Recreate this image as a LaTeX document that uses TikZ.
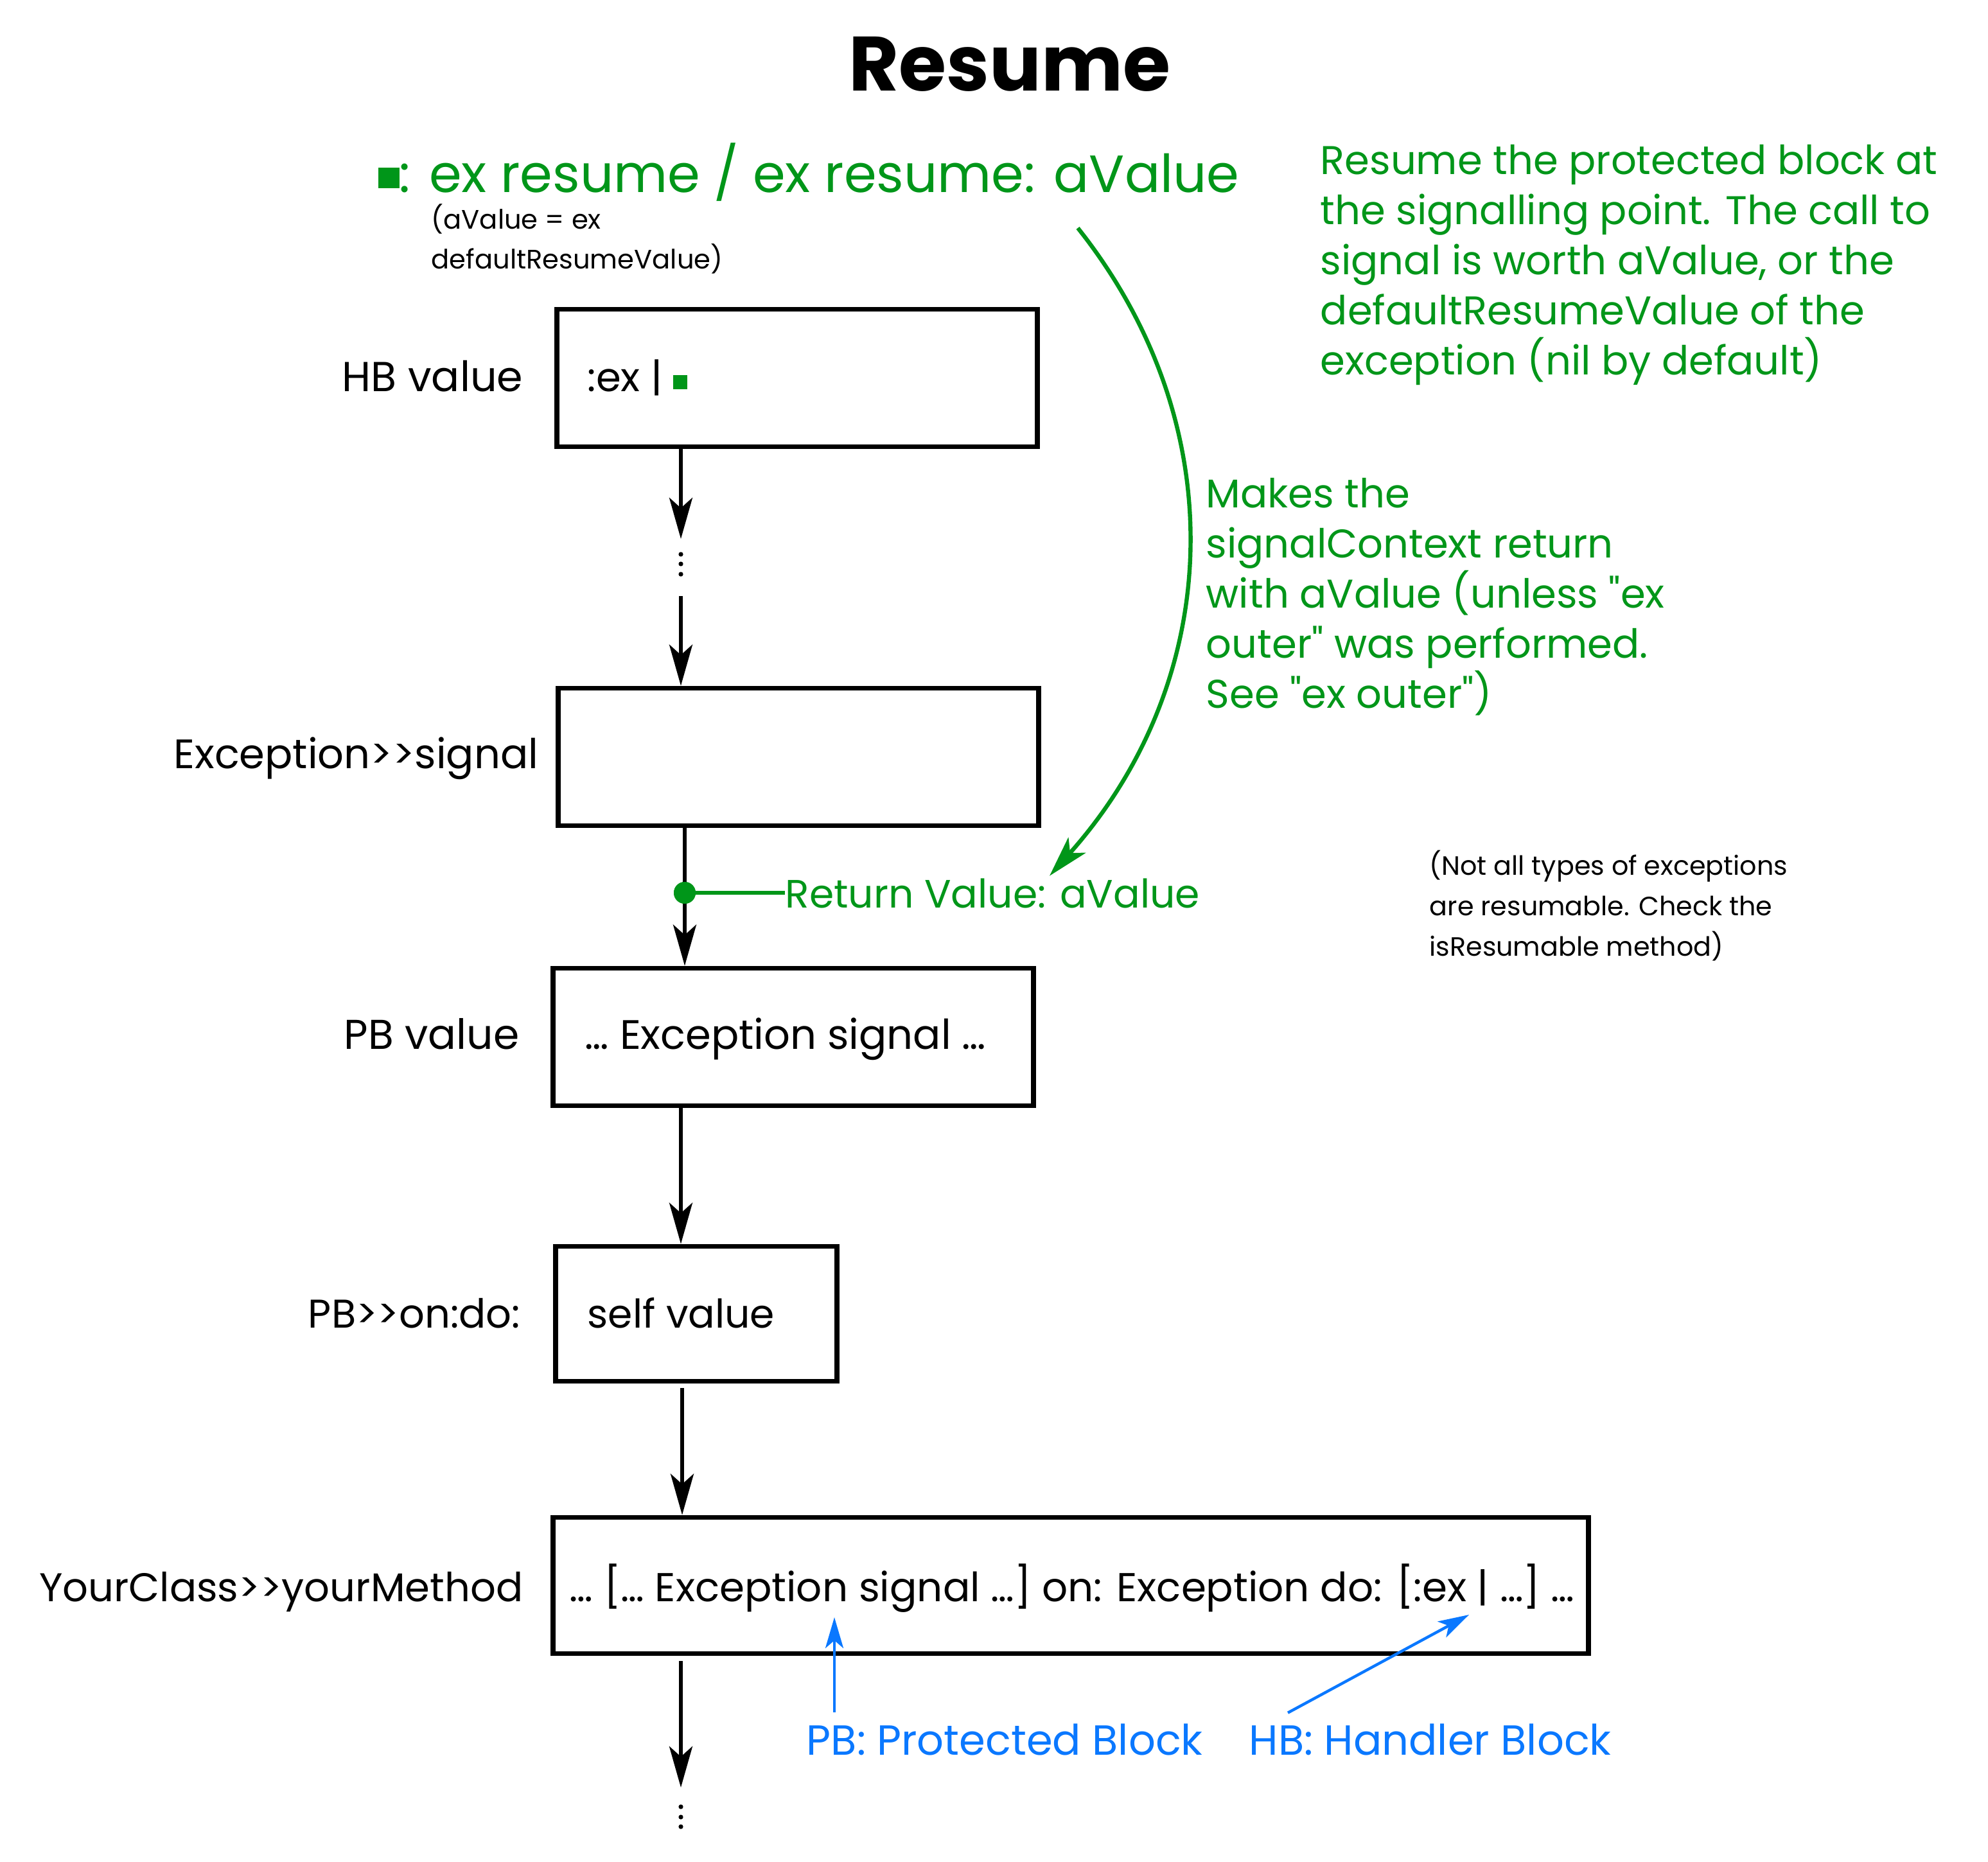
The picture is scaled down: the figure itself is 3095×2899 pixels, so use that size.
\documentclass[tikz,border=0pt]{standalone}
\usepackage{fontspec}
\setmainfont{Poppins}[Ligatures=TeXOff]
\usetikzlibrary{arrows.meta,calc}
\definecolor{gr}{RGB}{0,150,25}
\definecolor{bl}{RGB}{10,120,255}
\begin{document}
\begin{tikzpicture}[x=0.25pt,y=-0.25pt,
  box/.style={draw, line width=1.9pt, minimum width=187pt, minimum height=53.5pt, inner sep=0pt},
  lbl/.style={inner sep=0pt, font=\fontsize{15.6}{19.5}\selectfont},
  gtxt/.style={inner sep=0pt, text=gr, font=\fontsize{15.6}{19.5}\selectfont, align=left},
  small/.style={inner sep=0pt, font=\fontsize{10.4}{15.5}\selectfont, align=left},
  btxt/.style={inner sep=0pt, text=bl, font=\fontsize{16.4}{19.5}\selectfont},
  arr/.style={line width=1.5pt, -{Stealth[length=16pt,width=9pt,inset=4pt]}},
  garr/.style={gr, line width=1.6pt, -{Stealth[length=16pt,width=9pt,inset=4pt]}},
  barr/.style={bl, line width=1.1pt, -{Stealth[length=12pt,width=7pt,inset=3pt]}},
  vdot/.style={fill=black}
]
\fill[white] (0,0) rectangle (3095,2899);
\useasboundingbox (0,0) rectangle (3095,2899);

% title and header
\node[inner sep=0pt, anchor=base, font=\fontsize{30}{36}\selectfont\bfseries] (title) at (1572,142) {Resume};
\node[inner sep=0pt, anchor=base west, text=gr, font=\fontsize{20.4}{25}\selectfont] (head) at (588,300)
  {\raisebox{1.75pt}{\rule{8.2pt}{8pt}}: ex resume / ex resume: aValue};
\node[small, anchor=base west] (avn) at (671,419) {(aValue = ex\\defaultResumeValue)};
\node[gtxt, anchor=base west] (desc) at (2055,584)
  {Resume the protected block at\\the signalling point. The call to\\signal is worth aValue, or the\\defaultResumeValue of the\\exception (nil by default)};
\node[gtxt, anchor=base west] (mk) at (1877,1102)
  {Makes the\\signalContext return\\with aValue (unless "ex\\outer" was performed.\\See "ex outer")};
\node[small, anchor=base west, font=\fontsize{10.3}{15.75}\selectfont] (note) at (2225,1488)
  {(Not all types of exceptions\\are resumable. Check the\\isResumable method)};

% boxes
\node[box] (hb) at (1241,588.5) {};
\node[box] (sig) at (1243,1178.5) {};
\node[box] (pbv) at (1235,1614.5) {};
\node[box, minimum width=109.5pt, minimum height=52.5pt] (ondo) at (1084,2045.5) {};
\node[box, minimum width=403pt, minimum height=53pt] (yc) at (1667,2468.5) {};

% labels
\node[lbl, anchor=base east, font=\fontsize{16.3}{19.5}\selectfont] (hbl0) at (815,610) {HB value};
\node[lbl, anchor=base west] (hbt) at (914,610) {:ex | \textcolor{gr}{\raisebox{1pt}{\rule{5.5pt}{5.5pt}}}};
\node[lbl, anchor=base east, font=\fontsize{16}{19.5}\selectfont] (sigl) at (839,1196) {Exception>>signal};
\node[lbl, anchor=base east, font=\fontsize{16.2}{19.5}\selectfont] (pbvl) at (809,1633) {PB value};
\node[lbl, anchor=base west, font=\fontsize{16}{19.5}\selectfont] (pbvt) at (910,1633) {… Exception signal …};
\node[lbl, anchor=base east] (ondol) at (811,2067) {PB>>on:do:};
\node[lbl, anchor=base west, font=\fontsize{15.4}{19.5}\selectfont] (ondot) at (914,2067) {self value};
\node[lbl, anchor=base east] (ycl) at (815,2493) {YourClass>>yourMethod};
\node[lbl, anchor=base west, font=\fontsize{15.7}{19.5}\selectfont] (yct) at (886,2493) {… [… Exception signal …] on: Exception do: [:ex | …] …};
\node[gtxt, anchor=base west, font=\fontsize{15.4}{19.5}\selectfont] (rv) at (1222,1413) {Return Value: aValue};
\node[btxt, anchor=base west] (pbl) at (1255,2732) {PB: Protected Block};
\node[btxt, anchor=base west] (hbl) at (1944,2732) {HB: Handler Block};

% coordinates
\coordinate (d1top) at (1060,839);
\coordinate (d1bot) at (1060,928);
\coordinate (d2top) at (1060,2783);
\coordinate (cstart) at (1678,355);
\coordinate (pbtip) at (1299,2518);
\coordinate (hbtip) at (2287,2514);

% black flow
\draw[arr] (hb.south -| d1top) -- (d1top);
\fill[vdot] (1060,863) circle[radius=0.9pt] (1060,878) circle[radius=0.9pt] (1060,894) circle[radius=0.9pt];
\draw[arr] (d1bot) -- (sig.north -| d1bot);
\node[circle, fill=gr, inner sep=0pt, minimum size=8.5pt] (gdot) at (1066,1390) {};
\draw[arr] (sig.south -| gdot) -- (pbv.north -| gdot);
\fill[gr] (gdot) circle[radius=4.25pt];
\draw[gr, line width=1.6pt] (gdot.center) -- (gdot -| rv.west);
\draw[arr] (pbv.south -| d1top) -- (ondo.north -| d1top);
\draw[arr] ($(ondo.south -| d1top)+(2,7)$) -- ($(yc.north -| d1top)+(2,0)$);
\draw[arr] ($(yc.south -| d1top)+(0,8)$) -- (d2top);
\fill[vdot] (1060,2813) circle[radius=0.9pt] (1060,2829) circle[radius=0.9pt] (1060,2844) circle[radius=0.9pt];

% green curve
\draw[garr] (cstart) .. controls (1926,667) and (1902,1064) .. ($(rv.north west)+(412,-3)$);

% blue arrows
\draw[barr] ($(pbl.north -| pbtip)+(0,-17)$) -- (pbtip);
\draw[barr] ($(hbl.north west)+(61,-16)$) -- (hbtip);
\end{tikzpicture}
\end{document}
